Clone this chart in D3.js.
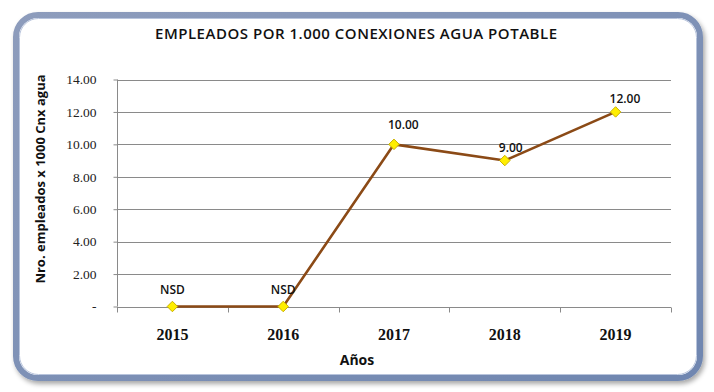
<!DOCTYPE html>
<html><head><meta charset="utf-8">
<script src="https://cdn.jsdelivr.net/npm/d3@7"></script>
<style>html,body{margin:0;padding:0;background:#fff;}svg{display:block;}</style>
</head><body>
<script>
const years = ["2015","2016","2017","2018","2019"];
const values = [0, 0, 10, 9, 12];
const labels = ["NSD","NSD","10.00","9.00","12.00"];
const yTicks = [0,2,4,6,8,10,12,14];
const title = "EMPLEADOS POR 1.000 CONEXIONES AGUA POTABLE";
const yTitle = "Nro. empleados x 1000 Cnx agua";
const xTitle = "Años";

(function(){
const W = 714, H = 392;
const svg = d3.select("body").append("svg").attr("width", W).attr("height", H);
const defs = svg.append("defs");
const g1 = defs.append("linearGradient").attr("id","bord").attr("x1","0").attr("y1","0").attr("x2","1").attr("y2","1");
g1.append("stop").attr("offset","0").attr("stop-color","#8d9cbc");
g1.append("stop").attr("offset","1").attr("stop-color","#6f86b0");
const f = defs.append("filter").attr("id","sh").attr("x","-5%").attr("y","-5%").attr("width","110%").attr("height","115%");
f.append("feGaussianBlur").attr("in","SourceAlpha").attr("stdDeviation","2.5").attr("result","b");
f.append("feOffset").attr("in","b").attr("dx","2").attr("dy","3").attr("result","o");
f.append("feComponentTransfer").attr("in","o").attr("result","o2").append("feFuncA").attr("type","linear").attr("slope","0.35");
const fm = f.append("feMerge"); fm.append("feMergeNode").attr("in","o2"); fm.append("feMergeNode").attr("in","SourceGraphic");

svg.append("rect").attr("x",16).attr("y",15).attr("width",684).attr("height",363)
  .attr("rx",22).attr("ry",22).attr("fill","#fff").attr("stroke","url(#bord)").attr("stroke-width",6)
  .attr("filter","url(#sh)");
svg.append("rect").attr("x",19.5).attr("y",18.5).attr("width",677).attr("height",356)
  .attr("rx",19).attr("ry",19).attr("fill","none").attr("stroke","#b8c4dc").attr("stroke-width",1);

const pl = 117, pr = 671, pt = 79.5, pb = 306.5;
const x = d3.scaleBand().domain(years).range([pl, pr]).padding(0);
const y = d3.scaleLinear().domain([0,14]).range([pb, pt]);

// title
svg.append("text").attr("x",356).attr("y",39).attr("text-anchor","middle")
  .attr("font-family","Open Sans, sans-serif").attr("font-weight","600").attr("font-size",15)
  .attr("textLength",402).attr("lengthAdjust","spacing")
  .attr("fill","#111").text(title);

// gridlines
svg.append("g").selectAll("line").data(yTicks.filter(d=>d>0)).join("line")
  .attr("x1",pl).attr("x2",pr).attr("y1",d=>Math.round(y(d))+0.5).attr("y2",d=>Math.round(y(d))+0.5)
  .attr("stroke","#8a8a8a").attr("stroke-width",1);

// y axis
const yAxis = d3.axisLeft(y).tickValues(yTicks).tickSize(4).tickPadding(17)
  .tickFormat(d => d === 0 ? "-" : d3.format(".2f")(d));
const ya = svg.append("g").attr("transform",`translate(${pl+0.5},0)`).call(yAxis);
ya.selectAll("path,line").attr("stroke","#8a8a8a");
ya.selectAll("text").attr("font-family","Liberation Serif, serif").attr("font-size",13.5).attr("fill","#222");
ya.select(".domain").attr("d",`M0,${pb}V${pt}`);

// x axis
const xAxis = d3.axisBottom(x).tickSize(0).tickPadding(21);
const xa = svg.append("g").attr("transform",`translate(0,${Math.round(pb)+0.5})`).call(xAxis);
xa.select(".domain").attr("d",`M${pl},0H${pr}`).attr("stroke","#8a8a8a");
xa.selectAll("text").attr("font-family","Liberation Serif, serif").attr("font-size",16).attr("font-weight","bold").attr("fill","#111");
xa.append("g").selectAll("line").data(years.map(d=>x(d)).concat([pr])).join("line")
  .attr("x1",d=>Math.round(d)+0.5).attr("x2",d=>Math.round(d)+0.5).attr("y1",0).attr("y2",5).attr("stroke","#8a8a8a");

// axis titles
svg.append("text").attr("transform","translate(45,179) rotate(-90)").attr("text-anchor","middle")
  .attr("font-family","Open Sans, sans-serif").attr("font-weight","bold").attr("font-size",13)
  .attr("fill","#111").text(yTitle);
svg.append("text").attr("x",357).attr("y",365).attr("text-anchor","middle")
  .attr("font-family","Open Sans, sans-serif").attr("font-weight","bold").attr("font-size",14)
  .attr("fill","#111").text(xTitle);

// line
const cx = d => x(d) + x.bandwidth()/2;
const line = d3.line().x((d,i)=>cx(years[i])).y(d=>y(d));
svg.append("path").datum(values).attr("d",line).attr("fill","none")
  .attr("stroke","#8b4a16").attr("stroke-width",2.6).attr("stroke-linejoin","round");

// markers
svg.append("g").selectAll("path").data(values).join("path")
  .attr("transform",(d,i)=>`translate(${cx(years[i])},${y(d)})`)
  .attr("d",d3.symbol(d3.symbolDiamond2, 70))
  .attr("fill","#ffee00").attr("stroke","#c9b000").attr("stroke-width",1);

// data labels
svg.append("g").selectAll("text").data(values).join("text")
  .attr("x",(d,i)=> labels[i]==="NSD" ? cx(years[i]) : cx(years[i]) - 6)
  .attr("y",(d,i)=> y(d) - (i===2 ? 15 : labels[i]==="NSD" ? 13 : 9))
  .attr("text-anchor",(d,i)=> labels[i]==="NSD" ? "middle" : "start")
  .attr("font-family","Open Sans, sans-serif").attr("font-weight","600").attr("font-size",12)
  .attr("fill","#111").text((d,i)=>labels[i]);
})();
</script>
</body></html>
